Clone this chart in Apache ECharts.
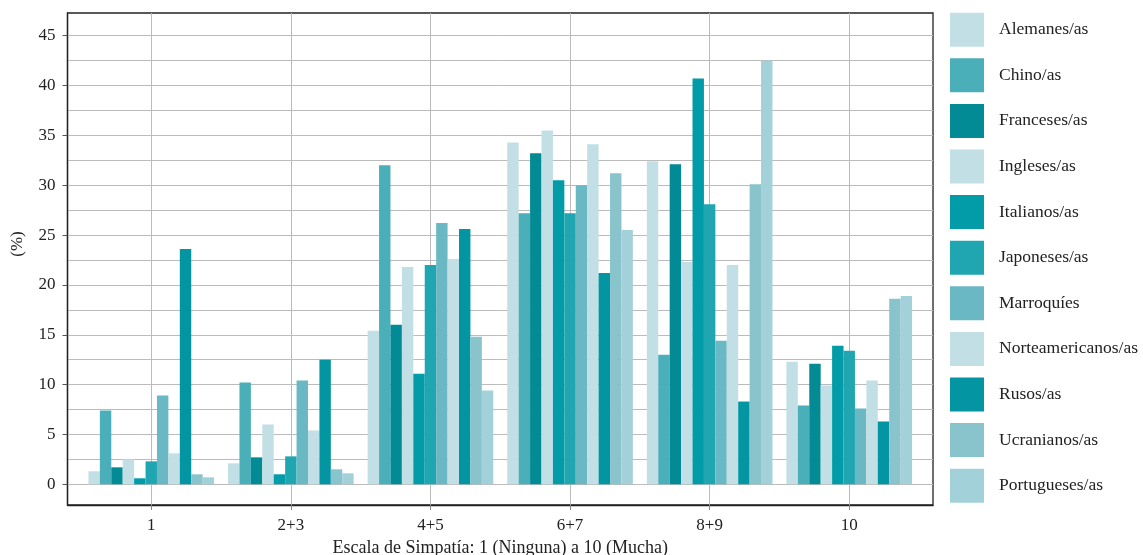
<!DOCTYPE html>
<html>
<head>
<meta charset="utf-8">
<script src="https://cdn.jsdelivr.net/npm/echarts@6/dist/echarts.min.js"></script>
<style>html,body{margin:0;padding:0;background:#fff}#c{width:1143px;height:555px}</style>
</head>
<body>
<div id="c"></div>
<script>
const categories = ['1', '2+3', '4+5', '6+7', '8+9', '10'];
const seriesNames = ['Alemanes/as', 'Chino/as', 'Franceses/as', 'Ingleses/as', 'Italianos/as', 'Japoneses/as', 'Marroquíes', 'Norteamericanos/as', 'Rusos/as', 'Ucranianos/as', 'Portugueses/as'];
const alemanes        = [1.3, 2.1, 15.4, 34.3, 32.4, 12.3];
const chino           = [7.4, 10.2, 32.0, 27.2, 13.0, 7.9];
const franceses       = [1.7, 2.7, 16.0, 33.2, 32.1, 12.1];
const ingleses        = [2.5, 6.0, 21.8, 35.5, 22.3, 9.9];
const italianos       = [0.6, 1.0, 11.1, 30.5, 40.7, 13.9];
const japoneses       = [2.3, 2.8, 22.0, 27.2, 28.1, 13.4];
const marroquies      = [8.9, 10.4, 26.2, 30.0, 14.4, 7.6];
const norteamericanos = [3.1, 5.4, 22.6, 34.1, 22.0, 10.4];
const rusos           = [23.6, 12.5, 25.6, 21.2, 8.3, 6.3];
const ucranianos      = [1.0, 1.5, 14.8, 31.2, 30.1, 18.6];
const portugueses     = [0.7, 1.1, 9.4, 25.5, 42.5, 18.9];
const seriesValues = [alemanes, chino, franceses, ingleses, italianos, japoneses, marroquies, norteamericanos, rusos, ucranianos, portugueses];
const colors = ['#c1dfe4', '#4bafba', '#028a95', '#c1dfe4', '#019ca7', '#1fa6b1', '#6ab8c3', '#c1dfe4', '#0395a2', '#89c4cd', '#a3d1d9'];
const yTicks = [0, 5, 10, 15, 20, 25, 30, 35, 40, 45];
const yGrid = [0, 2.5, 5, 7.5, 10, 12.5, 15, 17.5, 20, 22.5, 25, 27.5, 30, 32.5, 35, 37.5, 40, 42.5, 45];
const xPositions = [1, 2, 3, 4, 5, 6];
const xTitle = 'Escala de Simpatía: 1 (Ninguna) a 10 (Mucha)';
const yTitle = '(%)';

const FONT = '"Liberation Serif", "DejaVu Serif", serif';
const yMin = -2.08, yMax = 47.28;
const pLeft = 67.5, pRight = 933, pTop = 13, pBottom = 505;
const unit = (pRight - pLeft) / 6.2;

const chart = echarts.init(document.getElementById('c'));
chart.setOption({
  animation: false,
  backgroundColor: '#fff',
  textStyle: { fontFamily: FONT },
  grid: [
    { left: pLeft, right: 1143 - pRight, top: pTop, bottom: 555 - pBottom, outerBoundsMode: 'none', containLabel: false, show: true, borderColor: '#222', borderWidth: 1.3, backgroundColor: 'transparent' },
    { left: pLeft + 0.1 * unit, width: 6 * unit, top: pTop, bottom: 555 - pBottom, outerBoundsMode: 'none', containLabel: false }
  ],
  xAxis: [
    {
      type: 'value', gridIndex: 0, min: 0.4, max: 6.6,
      axisLine: { show: true, onZero: false, lineStyle: { color: '#222', width: 1.3 } },
      axisTick: { show: true, length: 5, customValues: xPositions, lineStyle: { color: '#888' } },
      axisLabel: { show: true, customValues: xPositions, formatter: v => categories[Math.round(v) - 1], color: '#222', fontFamily: FONT, fontSize: 17, margin: 12 },
      splitLine: { show: true, lineStyle: { color: '#bbbbbb', width: 1 } },
      name: xTitle, nameLocation: 'middle', nameGap: 34,
      nameTextStyle: { color: '#222', fontFamily: FONT, fontSize: 18 }
    },
    {
      type: 'category', gridIndex: 1, data: categories,
      axisLine: { show: false }, axisTick: { show: false }, axisLabel: { show: false }, splitLine: { show: false }
    }
  ],
  yAxis: [
    {
      type: 'value', gridIndex: 0, min: yMin, max: yMax,
      axisLine: { show: false },
      axisTick: { show: false, customValues: yGrid },
      axisLabel: { show: false, customValues: yGrid },
      splitLine: { show: true, lineStyle: { color: '#bbbbbb', width: 1 } }
    },
    {
      type: 'value', gridIndex: 0, min: yMin, max: yMax, position: 'left',
      axisLine: { show: true, onZero: false, lineStyle: { color: '#222', width: 1.3 } },
      axisTick: { show: true, length: 5, customValues: yTicks, lineStyle: { color: '#555' } },
      axisLabel: { show: true, customValues: yTicks, color: '#222', fontFamily: FONT, fontSize: 17, margin: 12 },
      splitLine: { show: false }
    },
    {
      type: 'value', gridIndex: 1, min: yMin, max: yMax,
      axisLine: { show: false }, axisTick: { show: false }, axisLabel: { show: false }, splitLine: { show: false }
    }
  ],
  legend: {
    orient: 'vertical', left: 950, top: 12.7, padding: 0,
    itemWidth: 34, itemHeight: 34, itemGap: 11.6, icon: 'rect',
    data: seriesNames,
    textStyle: { color: '#222', fontFamily: FONT, fontSize: 17.5, padding: [0, 0, 0, 10] }
  },
  graphic: [
    { type: 'text', x: 18, y: 244, rotation: Math.PI / 2, style: { text: yTitle, fill: '#222', font: '17px ' + FONT, align: 'center', verticalAlign: 'middle' } }
  ],
  series: seriesNames.map((name, i) => ({
    name: name, type: 'bar', xAxisIndex: 1, yAxisIndex: 2,
    data: seriesValues[i], barGap: '0%', barCategoryGap: '10%',
    itemStyle: { color: colors[i] }
  }))
});
</script>
</body>
</html>
